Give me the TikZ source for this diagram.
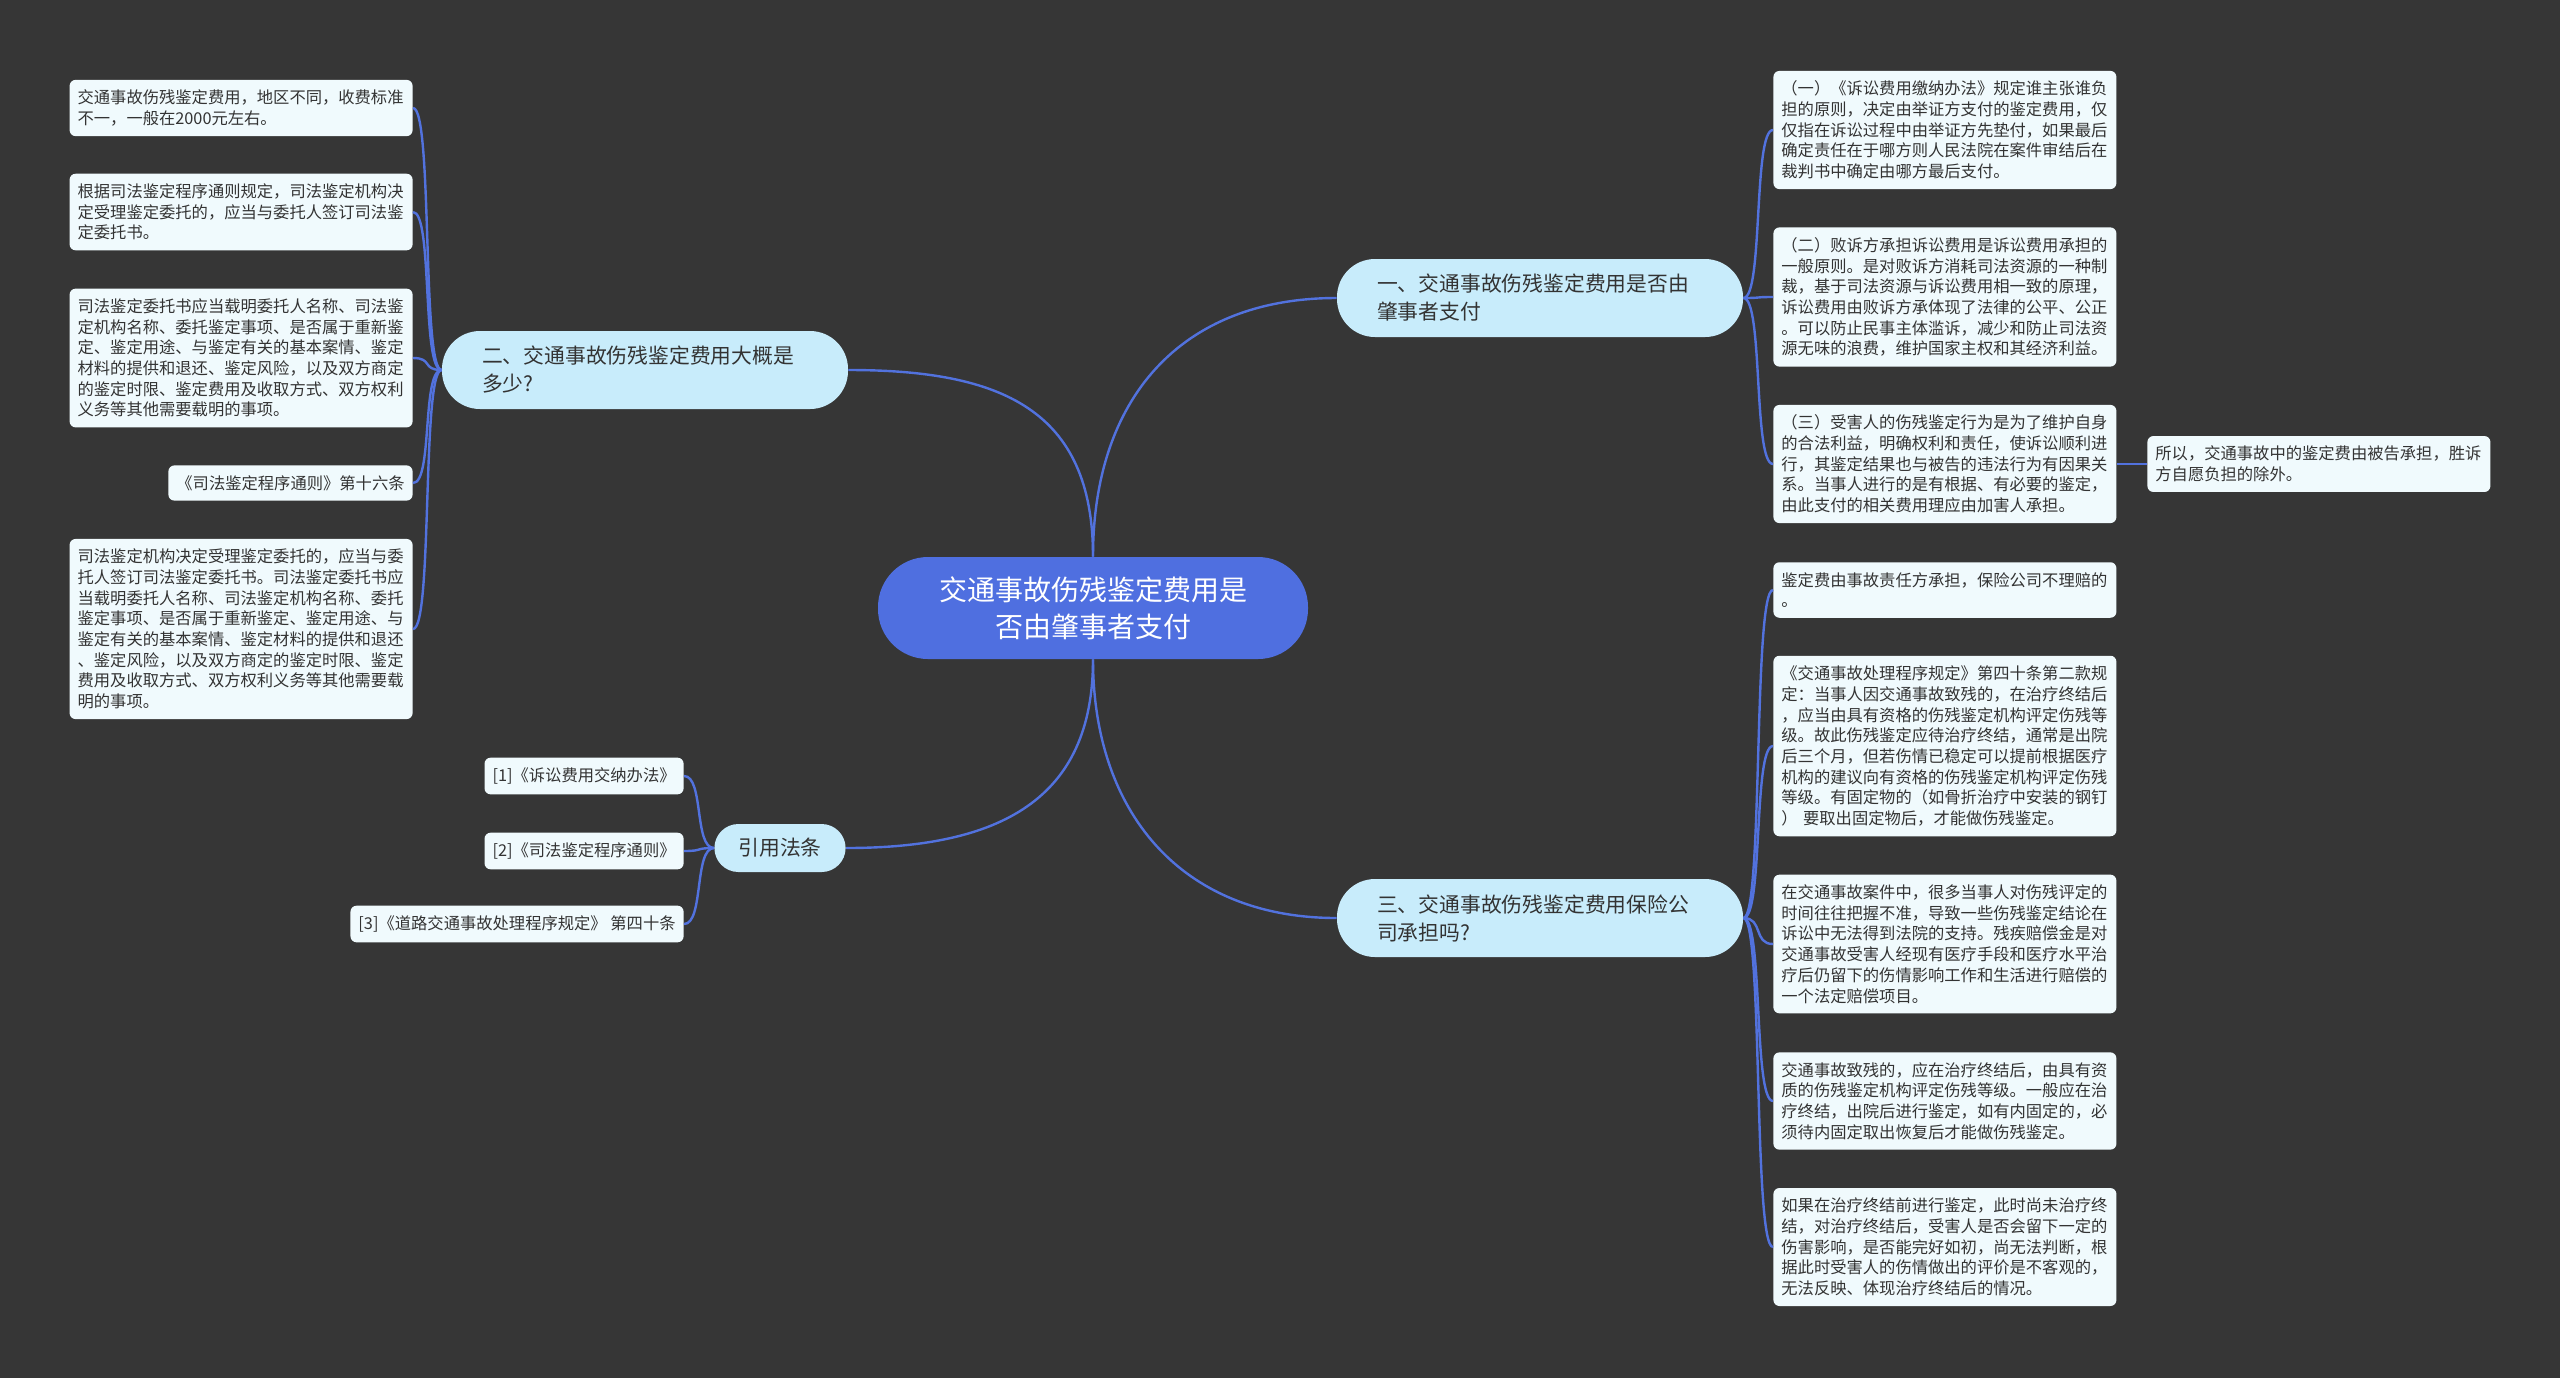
\documentclass[tikz,border=0pt]{standalone}
\usepackage{fontspec}
\setmainfont{Noto Sans CJK SC}
\usepackage{tikz}
\definecolor{tbg}{HTML}{363636}
\definecolor{tblue}{HTML}{4F6FE0}
\definecolor{tline}{HTML}{5272DE}
\definecolor{tcyan}{HTML}{C8ECFB}
\definecolor{tleaf}{HTML}{F0FAFD}
\definecolor{tink}{HTML}{333333}

\begin{document}
\begin{tikzpicture}[x=0.5pt, y=-0.5pt,
  root/.style={fill=tblue, text=white, rounded corners=25pt, minimum width=215pt, minimum height=51pt, align=center, font=\fontsize{14}{18.3}\selectfont},
  pill/.style={fill=tcyan, text=tink, rounded corners=19pt, minimum height=39pt, align=left, font=\fontsize{10.4}{14}\selectfont},
  branch/.style={pill, text width=163pt, inner xsep=20pt},
  leaf/.style={fill=tleaf, text=tink, rounded corners=3pt, align=left, inner xsep=4pt, inner ysep=5pt, font=\fontsize{8.15}{10.35}\selectfont},
  para/.style={leaf, text width=163.5pt},
  link/.style={draw=tline, line width=1.2pt}]
\path[use as bounding box, fill=tbg] (0,0) rectangle (2560,1378);
% centre and main branches
\node[root] (M) at (1093,608) {交通事故伤残鉴定费用是\\否由肇事者支付};
\node[branch] (B1) at (1540,298) {一、交通事故伤残鉴定费用是否由\\肇事者支付};
\node[branch] (B2) at (645,370) {二、交通事故伤残鉴定费用大概是\\多少?};
\node[branch] (B3) at (1540,918) {三、交通事故伤残鉴定费用保险公\\司承担吗?};
\node[pill, rounded corners=12pt, minimum height=24pt, inner xsep=12pt] (C) at (780,848) {引用法条};
\draw[link] (M.north) .. controls +(0,-157) and +(-157,0) .. (B1.west);
\draw[link] (M.north) .. controls +(0,-147) and +(153,0) .. (B2.east);
\draw[link] (M.south) .. controls +(0,141) and +(153,0) .. (C.east);
\draw[link] (M.south) .. controls +(0,151) and +(-157,0) .. (B3.west);
% branch one
\node[para, anchor=west] (P1) at (1773,130) {（一）《诉讼费用缴纳办法》规定谁主张谁负\\担的原则，决定由举证方支付的鉴定费用，仅\\仅指在诉讼过程中由举证方先垫付，如果最后\\确定责任在于哪方则人民法院在案件审结后在\\裁判书中确定由哪方最后支付。};
\node[para, anchor=west] (P2) at (1773,297) {（二）败诉方承担诉讼费用是诉讼费用承担的\\一般原则。是对败诉方消耗司法资源的一种制\\裁，基于司法资源与诉讼费用相一致的原理，\\诉讼费用由败诉方承体现了法律的公平、公正\\。可以防止民事主体滥诉，减少和防止司法资\\源无味的浪费，维护国家主权和其经济利益。};
\node[para, anchor=west] (P3) at (1773,464) {（三）受害人的伤残鉴定行为是为了维护自身\\的合法利益，明确权利和责任，使诉讼顺利进\\行，其鉴定结果也与被告的违法行为有因果关\\系。当事人进行的是有根据、有必要的鉴定，\\由此支付的相关费用理应由加害人承担。};
\node[para, anchor=west] (P4) at (2147,464) {所以，交通事故中的鉴定费由被告承担，胜诉\\方自愿负担的除外。};
\foreach \i in {1,2,3} \draw[link] (B1.east) .. controls +(20,0) and +(-20,0) .. (P\i.west);
\draw[link] (P3.east) -- (P4.west);
% branch two
\node[para, anchor=east] (L1) at (413,108) {交通事故伤残鉴定费用，地区不同，收费标准\\不一，一般在2000元左右。};
\node[para, anchor=east] (L2) at (413,212) {根据司法鉴定程序通则规定，司法鉴定机构决\\定受理鉴定委托的，应当与委托人签订司法鉴\\定委托书。};
\node[para, anchor=east] (L3) at (413,358) {司法鉴定委托书应当载明委托人名称、司法鉴\\定机构名称、委托鉴定事项、是否属于重新鉴\\定、鉴定用途、与鉴定有关的基本案情、鉴定\\材料的提供和退还、鉴定风险，以及双方商定\\的鉴定时限、鉴定费用及收取方式、双方权利\\义务等其他需要载明的事项。};
\node[leaf, anchor=east] (L4) at (413,483) {《司法鉴定程序通则》第十六条};
\node[para, anchor=east] (L5) at (413,629) {司法鉴定机构决定受理鉴定委托的，应当与委\\托人签订司法鉴定委托书。司法鉴定委托书应\\当载明委托人名称、司法鉴定机构名称、委托\\鉴定事项、是否属于重新鉴定、鉴定用途、与\\鉴定有关的基本案情、鉴定材料的提供和退还\\、鉴定风险，以及双方商定的鉴定时限、鉴定\\费用及收取方式、双方权利义务等其他需要载\\明的事项。};
\foreach \i in {1,...,5} \draw[link] (B2.west) .. controls +(-20,0) and +(20,0) .. (L\i.east);
% cited laws
\node[leaf, anchor=east] (C1) at (684,776) {[1]《诉讼费用交纳办法》};
\node[leaf, anchor=east] (C2) at (684,851) {[2]《司法鉴定程序通则》};
\node[leaf, anchor=east] (C3) at (684,924) {[3]《道路交通事故处理程序规定》 第四十条};
\foreach \i in {1,2,3} \draw[link] (C.west) .. controls +(-20,0) and +(20,0) .. (C\i.east);
% branch three
\node[para, anchor=west] (S1) at (1773,590) {鉴定费由事故责任方承担，保险公司不理赔的\\。};
\node[para, anchor=west] (S2) at (1773,746) {《交通事故处理程序规定》第四十条第二款规\\定：当事人因交通事故致残的，在治疗终结后\\，应当由具有资格的伤残鉴定机构评定伤残等\\级。故此伤残鉴定应待治疗终结，通常是出院\\后三个月，但若伤情已稳定可以提前根据医疗\\机构的建议向有资格的伤残鉴定机构评定伤残\\等级。有固定物的（如骨折治疗中安装的钢钉\\） 要取出固定物后，才能做伤残鉴定。};
\node[para, anchor=west] (S3) at (1773,944) {在交通事故案件中，很多当事人对伤残评定的\\时间往往把握不准，导致一些伤残鉴定结论在\\诉讼中无法得到法院的支持。残疾赔偿金是对\\交通事故受害人经现有医疗手段和医疗水平治\\疗后仍留下的伤情影响工作和生活进行赔偿的\\一个法定赔偿项目。};
\node[para, anchor=west] (S4) at (1773,1101) {交通事故致残的，应在治疗终结后，由具有资\\质的伤残鉴定机构评定伤残等级。一般应在治\\疗终结，出院后进行鉴定，如有内固定的，必\\须待内固定取出恢复后才能做伤残鉴定。};
\node[para, anchor=west] (S5) at (1773,1247) {如果在治疗终结前进行鉴定，此时尚未治疗终\\结，对治疗终结后，受害人是否会留下一定的\\伤害影响，是否能完好如初，尚无法判断，根\\据此时受害人的伤情做出的评价是不客观的，\\无法反映、体现治疗终结后的情况。};
\foreach \i in {1,...,5} \draw[link] (B3.east) .. controls +(20,0) and +(-20,0) .. (S\i.west);
\end{tikzpicture}
\end{document}
